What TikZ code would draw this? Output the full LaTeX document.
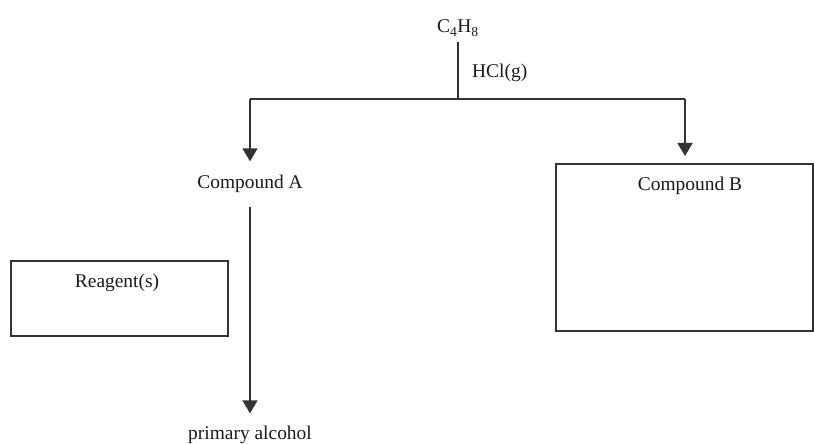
\documentclass[tikz,border=0pt]{standalone}
\usepackage{fontspec}
\setmainfont{Liberation Serif}
\usepackage{tikz}
\usetikzlibrary{positioning, arrows.meta}

\begin{document}
\begin{tikzpicture}[
    x=1bp, y=-1bp,
    txt/.style={font=\fontsize{19.5}{23}\selectfont, text=black!90, inner sep=0pt},
    stage/.style={txt, inner ysep=14bp},
    box/.style={draw=black!80, line width=1.7bp, anchor=north west},
    line/.style={draw=black!80, line width=1.6bp},
    arr/.style={line, -{Triangle[length=13bp, width=15bp]}}
  ]
  \useasboundingbox (0,0) rectangle (814,444);

  \node[txt, anchor=base, inner ysep=6bp] (c4h8) at (458,33) {C\textsubscript{4}H\textsubscript{8}};
  \node[txt, anchor=base west] (hcl) at (472,78) {HCl(g)};
  \coordinate (split) at (458,99);
  \coordinate (splitA) at (250,99);
  \coordinate (splitB) at (685,99);

  \node[stage, anchor=base] (compA) at (250,189) {Compound A};
  \node[box, minimum width=257bp, minimum height=167bp] (boxB) at (555,163) {};
  \node[txt, anchor=base] (compB) at (690,191) {Compound B};
  \node[box, minimum width=217bp, minimum height=75bp] (reag) at (10,260) {};
  \node[txt, anchor=base] (reagtxt) at (117,288) {Reagent(s)};
  \node[stage, anchor=base, inner ysep=12bp] (alcohol) at (250,439) {primary alcohol};

  \draw[line] (c4h8.south) -- (split);
  \draw[line] (splitA) -- (splitB);
  \draw[arr] (splitA) -- (compA);
  \draw[arr, shorten >=7bp] (splitB) -- (splitB |- boxB.north);
  \draw[arr] (compA) -- (alcohol);
\end{tikzpicture}
\end{document}
